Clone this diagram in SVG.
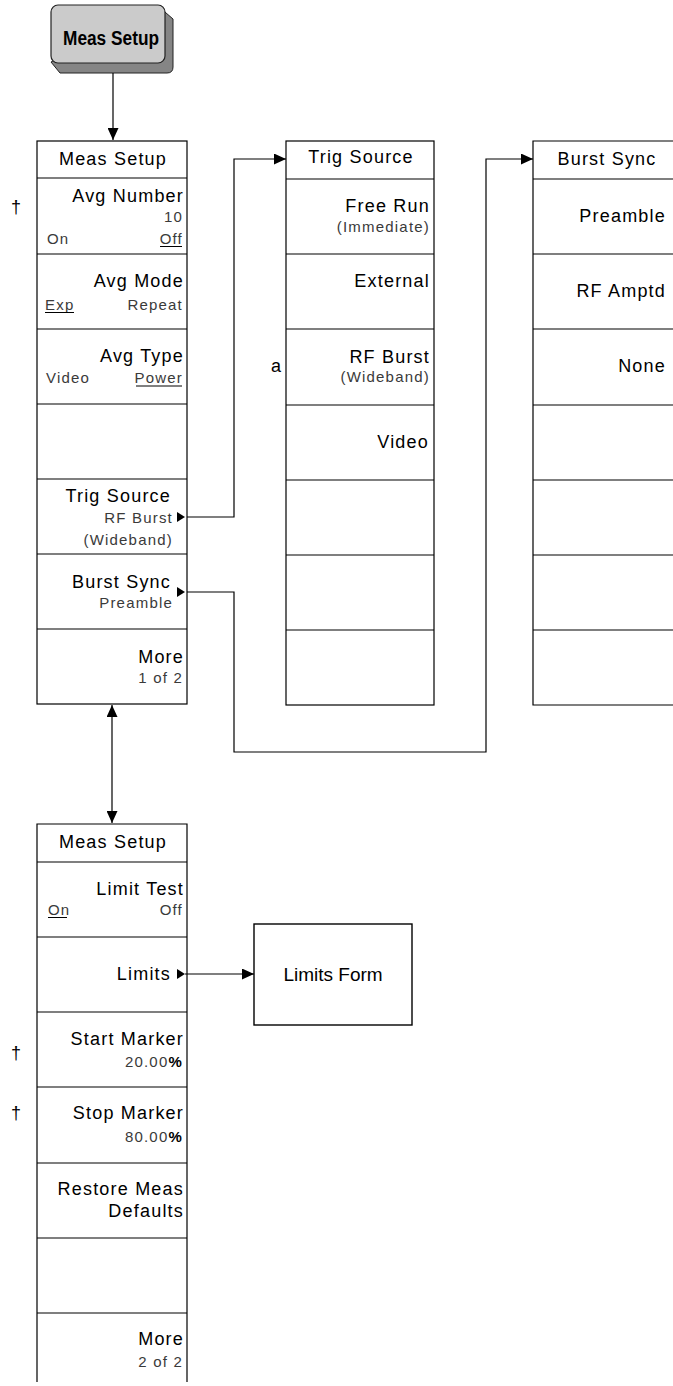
<svg xmlns="http://www.w3.org/2000/svg" width="673" height="1386" viewBox="0 0 673 1386">
<style>
.box{fill:#fff;stroke:#000;stroke-width:1.2}
.sep{stroke:#000;stroke-width:1.2}
.m{font-family:"Liberation Sans",Arial,sans-serif;font-size:18px;letter-spacing:1.2px;fill:#000}
.s{font-family:"Liberation Sans",Arial,sans-serif;font-size:15px;letter-spacing:1.2px;fill:#3a3a3a}
.e{text-anchor:end}
.c{text-anchor:middle}
.u{stroke:#000;stroke-width:1}
.w{stroke:#000;stroke-width:1.2;fill:none}
.tri{fill:#000}
.mk{font-family:"Liberation Sans",Arial,sans-serif;font-size:18px;fill:#000}
</style>
<defs>
<marker id="ah" viewBox="0 0 12 11" refX="12" refY="5.5" markerWidth="12" markerHeight="11" markerUnits="userSpaceOnUse" orient="auto-start-reverse">
<path d="M0,0 L12,5.5 L0,11 Z" fill="#000"/>
</marker>
</defs>

<g id="button-meas-setup">
<path d="M158,6 L173,19 L173,67 Q173,73 167,73 L60,73 L51,62 Z" fill="#858585" stroke="#222" stroke-width="1"/>
<rect x="51" y="5" width="114" height="58" rx="7" fill="#cbcbcb" stroke="#222" stroke-width="1.2"/>
<text x="111" y="45" font-family="Liberation Sans,Arial,sans-serif" font-size="20" font-weight="bold" text-anchor="middle" textLength="96" lengthAdjust="spacingAndGlyphs">Meas Setup</text>
</g>

<g id="connectors">
<line class="w" x1="113" y1="73" x2="113" y2="140" marker-end="url(#ah)"/>
<polyline class="w" points="185,517 234,517 234,159 286,159" marker-end="url(#ah)"/>
<polyline class="w" points="185,592 234,592 234,752 486,752 486,159 533,159" marker-end="url(#ah)"/>
<line class="w" x1="112" y1="705" x2="112" y2="823" marker-start="url(#ah)" marker-end="url(#ah)"/>
<line class="w" x1="185" y1="974" x2="254" y2="974" marker-end="url(#ah)"/>
</g>

<g id="menu-meas-setup-1">
<rect class="box" x="37" y="141" width="150" height="563"/>
<line class="sep" x1="37" y1="178" x2="187" y2="178"/>
<line class="sep" x1="37" y1="254" x2="187" y2="254"/>
<line class="sep" x1="37" y1="329" x2="187" y2="329"/>
<line class="sep" x1="37" y1="404" x2="187" y2="404"/>
<line class="sep" x1="37" y1="479" x2="187" y2="479"/>
<line class="sep" x1="37" y1="554" x2="187" y2="554"/>
<line class="sep" x1="37" y1="629" x2="187" y2="629"/>
<text class="m c" x="113" y="165">Meas Setup</text>
<text class="m e" x="184" y="202">Avg Number</text>
<text class="s e" x="183" y="222">10</text>
<text class="s" x="47" y="244">On</text>
<text class="s e" x="183" y="244">Off</text>
<line class="u" x1="160" y1="246.5" x2="182" y2="246.5"/>
<text class="m e" x="184" y="287">Avg Mode</text>
<text class="s" x="45" y="310">Exp</text>
<line class="u" x1="45" y1="312.5" x2="74" y2="312.5"/>
<text class="s e" x="183" y="310">Repeat</text>
<text class="m e" x="184" y="362">Avg Type</text>
<text class="s" x="46" y="383">Video</text>
<text class="s e" x="183" y="383">Power</text>
<line class="u" x1="136" y1="386" x2="182" y2="386"/>
<text class="m e" x="171" y="502">Trig Source</text>
<text class="s e" x="173" y="523">RF Burst</text>
<path class="tri" d="M177,512 L185,517 L177,522 Z"/>
<text class="s e" x="173" y="545">(Wideband)</text>
<text class="m e" x="171" y="588">Burst Sync</text>
<path class="tri" d="M177,587 L185,592 L177,597 Z"/>
<text class="s e" x="173" y="608">Preamble</text>
<text class="m e" x="184" y="663">More</text>
<text class="s e" x="183" y="683">1 of 2</text>
<text class="mk" x="11" y="213">†</text>
</g>

<g id="menu-trig-source">
<rect class="box" x="286" y="141" width="148" height="564"/>
<line class="sep" x1="286" y1="179" x2="434" y2="179"/>
<line class="sep" x1="286" y1="254" x2="434" y2="254"/>
<line class="sep" x1="286" y1="329" x2="434" y2="329"/>
<line class="sep" x1="286" y1="405" x2="434" y2="405"/>
<line class="sep" x1="286" y1="480" x2="434" y2="480"/>
<line class="sep" x1="286" y1="555" x2="434" y2="555"/>
<line class="sep" x1="286" y1="630" x2="434" y2="630"/>
<text class="m c" x="361" y="163">Trig Source</text>
<text class="m e" x="430" y="212">Free Run</text>
<text class="s e" x="430" y="232">(Immediate)</text>
<text class="m e" x="430" y="287">External</text>
<text class="m e" x="430" y="363">RF Burst</text>
<text class="s e" x="430" y="382">(Wideband)</text>
<text class="m e" x="429" y="448">Video</text>
<text class="mk" x="271" y="372">a</text>
</g>

<g id="menu-burst-sync">
<polyline class="w" points="680,141 533,141 533,705 680,705"/>
<line class="sep" x1="533" y1="179" x2="673" y2="179"/>
<line class="sep" x1="533" y1="254" x2="673" y2="254"/>
<line class="sep" x1="533" y1="329" x2="673" y2="329"/>
<line class="sep" x1="533" y1="405" x2="673" y2="405"/>
<line class="sep" x1="533" y1="480" x2="673" y2="480"/>
<line class="sep" x1="533" y1="555" x2="673" y2="555"/>
<line class="sep" x1="533" y1="630" x2="673" y2="630"/>
<text class="m c" x="607" y="165">Burst Sync</text>
<text class="m e" x="666" y="222">Preamble</text>
<text class="m e" x="666" y="297">RF Amptd</text>
<text class="m e" x="666" y="372">None</text>
</g>

<g id="menu-meas-setup-2">
<polyline class="w" points="37,1382 37,824 187,824 187,1382"/>
<line class="sep" x1="37" y1="862" x2="187" y2="862"/>
<line class="sep" x1="37" y1="937" x2="187" y2="937"/>
<line class="sep" x1="37" y1="1012" x2="187" y2="1012"/>
<line class="sep" x1="37" y1="1087" x2="187" y2="1087"/>
<line class="sep" x1="37" y1="1163" x2="187" y2="1163"/>
<line class="sep" x1="37" y1="1238" x2="187" y2="1238"/>
<line class="sep" x1="37" y1="1313" x2="187" y2="1313"/>
<text class="m c" x="113" y="848">Meas Setup</text>
<text class="m e" x="184" y="895">Limit Test</text>
<text class="s" x="48" y="915">On</text>
<line class="u" x1="48" y1="917.5" x2="67" y2="917.5"/>
<text class="s e" x="183" y="915">Off</text>
<text class="m e" x="171" y="980">Limits</text>
<path class="tri" d="M177,969 L185,974 L177,979 Z"/>
<text class="m e" x="184" y="1045">Start Marker</text>
<text class="s e" x="183" y="1067">20.00<tspan fill="#000" font-weight="bold">%</tspan></text>
<text class="m e" x="184" y="1119">Stop Marker</text>
<text class="s e" x="183" y="1142">80.00<tspan fill="#000" font-weight="bold">%</tspan></text>
<text class="m e" x="184" y="1195">Restore Meas</text>
<text class="m e" x="184" y="1217">Defaults</text>
<text class="m e" x="184" y="1345">More</text>
<text class="s e" x="183" y="1367">2 of 2</text>
<text class="mk" x="11" y="1059">†</text>
<text class="mk" x="11" y="1119">†</text>
</g>

<g id="limits-form">
<rect x="254" y="924" width="158" height="101" fill="#fff" stroke="#000" stroke-width="1.4"/>
<text x="333" y="981" font-family="Liberation Sans,Arial,sans-serif" font-size="19" text-anchor="middle">Limits Form</text>
</g>
</svg>
